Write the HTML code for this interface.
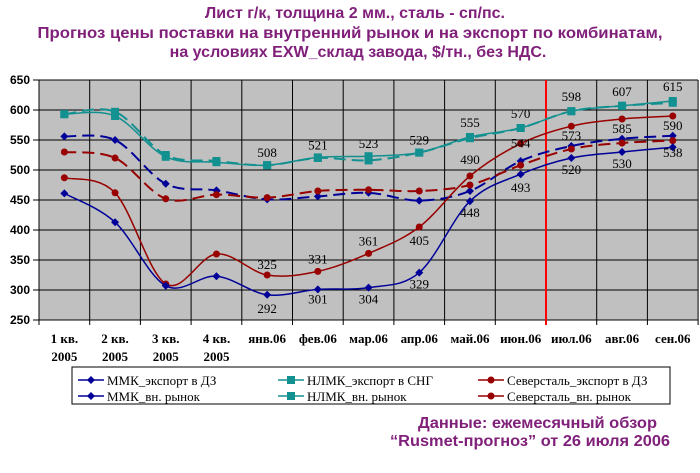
<!DOCTYPE html>
<html><head><meta charset="utf-8"><style>
body{margin:0;background:#fff;width:700px;height:473px;overflow:hidden}
svg{display:block}
.t{font-family:"Liberation Sans",Arial,sans-serif;font-weight:bold;font-size:16px;fill:#80207a}
.y{font-family:"Liberation Sans",Arial,sans-serif;font-weight:bold;font-size:12px;fill:#000}
.x{font-family:"Liberation Serif",serif;font-weight:bold;font-size:13px;fill:#000}
.d{font-family:"Liberation Serif",serif;font-size:13px;fill:#000}
.l{font-family:"Liberation Serif",serif;font-size:13px;fill:#000}
</style></head><body>
<svg id="s" width="700" height="473" xmlns="http://www.w3.org/2000/svg">
<text class="t" x="355" y="18" text-anchor="middle">Лист г/к, толщина 2 мм., сталь -  сп/пс.</text>
<text class="t" x="350" y="38" text-anchor="middle" textLength="625" lengthAdjust="spacingAndGlyphs">Прогноз цены поставки на внутренний рынок и на экспорт по комбинатам,</text>
<text class="t" x="358" y="57" text-anchor="middle">на условиях EXW_склад завода, $/тн., без НДС.</text>
<rect x="39" y="80" width="659" height="240" fill="#c0c0c0"/>
<g id="g"></g>
<rect x="72" y="367" width="598" height="37" fill="#fff" stroke="#000" stroke-width="1"/>
<g id="lg"></g>
<text class="t" x="418" y="428" textLength="239" lengthAdjust="spacingAndGlyphs">Данные: ежемесячный обзор</text>
<text class="t" x="390" y="446" textLength="280" lengthAdjust="spacingAndGlyphs">“Rusmet-прогноз” от 26 июля 2006</text>
</svg>
<script>
var NS="http://www.w3.org/2000/svg",g=document.getElementById("g");
function el(n,a,t){var e=document.createElementNS(NS,n);for(var k in a)e.setAttribute(k,a[k]);if(t!=null)e.textContent=t;g.appendChild(e);return e;}
var X0=39,W=50.7;function X(i){return X0+W/2+W*i}function Y(v){return 320-(v-250)*0.6}
for(var v=250;v<=650;v+=50){el("line",{x1:33,x2:698,y1:Y(v),y2:Y(v),stroke:"#000","stroke-width":1});el("text",{class:"y",x:30,y:Y(v)+4,"text-anchor":"end"},v);}
for(var i=0;i<=13;i++){var x=X0+W*i;el("line",{x1:x,x2:x,y1:80,y2:325,stroke:"#000","stroke-width":1});}
el("line",{x1:X0+W*10,x2:X0+W*10,y1:80,y2:325,stroke:"#ff0000","stroke-width":2});
var cats=["1 кв.","2 кв.","3 кв.","4 кв.","янв.06","фев.06","мар.06","апр.06","май.06","июн.06","июл.06","авг.06","сен.06"];
cats.forEach(function(c,i){el("text",{class:"x",x:X(i),y:343,"text-anchor":"middle"},c);if(i<4)el("text",{class:"x",x:X(i),y:361,"text-anchor":"middle"},"2005");});
function path(d){var p=d.map(function(v,i){return [X(i),Y(v)]});var s="M"+p[0][0]+","+p[0][1];
for(var i=0;i<p.length-1;i++){var a=p[i-1]||p[i],b=p[i],c=p[i+1],e=p[i+2]||c;
s+=" C"+(b[0]+(c[0]-a[0])/6)+","+(b[1]+(c[1]-a[1])/6)+" "+(c[0]-(e[0]-b[0])/6)+","+(c[1]-(e[1]-b[1])/6)+" "+c[0]+","+c[1];}return s;}
var S=[
{d:[556,550,477,466,451,456,462,449,465,515,540,552,557],c:"#000099",dash:1,m:"dia"},
{d:[530,520,452,459,454,465,467,465,475,508,535,545,549],c:"#990000",dash:1,m:"dot"},
{d:[593,597,525,515,508,520,516,529,553,570,598,607,612],c:"#139090",dash:1,m:"sq"},
{d:[593,590,522,513,508,521,523,529,555,570,598,607,615],c:"#139090",m:"sq"},
{d:[487,462,310,360,325,331,361,405,490,544,573,585,590],c:"#990000",m:"dot"},
{d:[461,413,307,323,292,301,304,329,448,493,520,530,538],c:"#000099",m:"dia"}];
function mk(m,x,y,c){if(m=="sq")el("rect",{x:x-4,y:y-4,width:8,height:8,fill:c});else if(m=="dot")el("circle",{cx:x,cy:y,r:3.5,fill:c});else el("path",{d:"M"+x+","+(y-4)+" L"+(x+4)+","+y+" L"+x+","+(y+4)+" L"+(x-4)+","+y+"Z",fill:c});}
S.forEach(function(s){var a={d:path(s.d),fill:"none",stroke:s.c,"stroke-width":s.dash?2:1.5};if(s.dash)a["stroke-dasharray"]="12,6";el("path",a);s.d.forEach(function(v,i){mk(s.m,X(i),Y(v),s.c)});});
function lab(i,v,dy){el("text",{class:"d",x:X(i),y:Y(v)+dy,"text-anchor":"middle"},v);}
[[4,508,-8],[5,521,-8],[6,523,-8],[7,529,-8],[8,555,-10],[9,570,-10],[10,598,-10],[11,607,-10],[12,615,-10]].forEach(function(a){lab(a[0],a[1],a[2])});
[[4,325,-6],[5,331,-8],[6,361,-8],[7,405,18],[8,490,-12],[9,544,4],[10,573,14],[11,585,14],[12,590,14]].forEach(function(a){lab(a[0],a[1],a[2])});
[[4,292,18],[5,301,14],[6,304,16],[7,329,16],[8,448,16],[9,493,18],[10,520,16],[11,530,16],[12,538,10]].forEach(function(a){lab(a[0],a[1],a[2])});
g=document.getElementById("lg");
var L=[["ММК_экспорт в ДЗ","#000099","dia",78,385],["НЛМК_экспорт в СНГ","#139090","sq",278,385],["Северсталь_экспорт в ДЗ","#990000","dot",478,385],
["ММК_вн. рынок","#000099","dia",78,401],["НЛМК_вн. рынок","#139090","sq",278,401],["Северсталь_вн. рынок","#990000","dot",478,401]];
L.forEach(function(l){el("line",{x1:l[3],x2:l[3]+26,y1:l[4]-5,y2:l[4]-5,stroke:l[1],"stroke-width":1.5});mk(l[2],l[3]+13,l[4]-5,l[1]);el("text",{class:"l",x:l[3]+29,y:l[4]},l[0]);});
</script>
</body></html>
